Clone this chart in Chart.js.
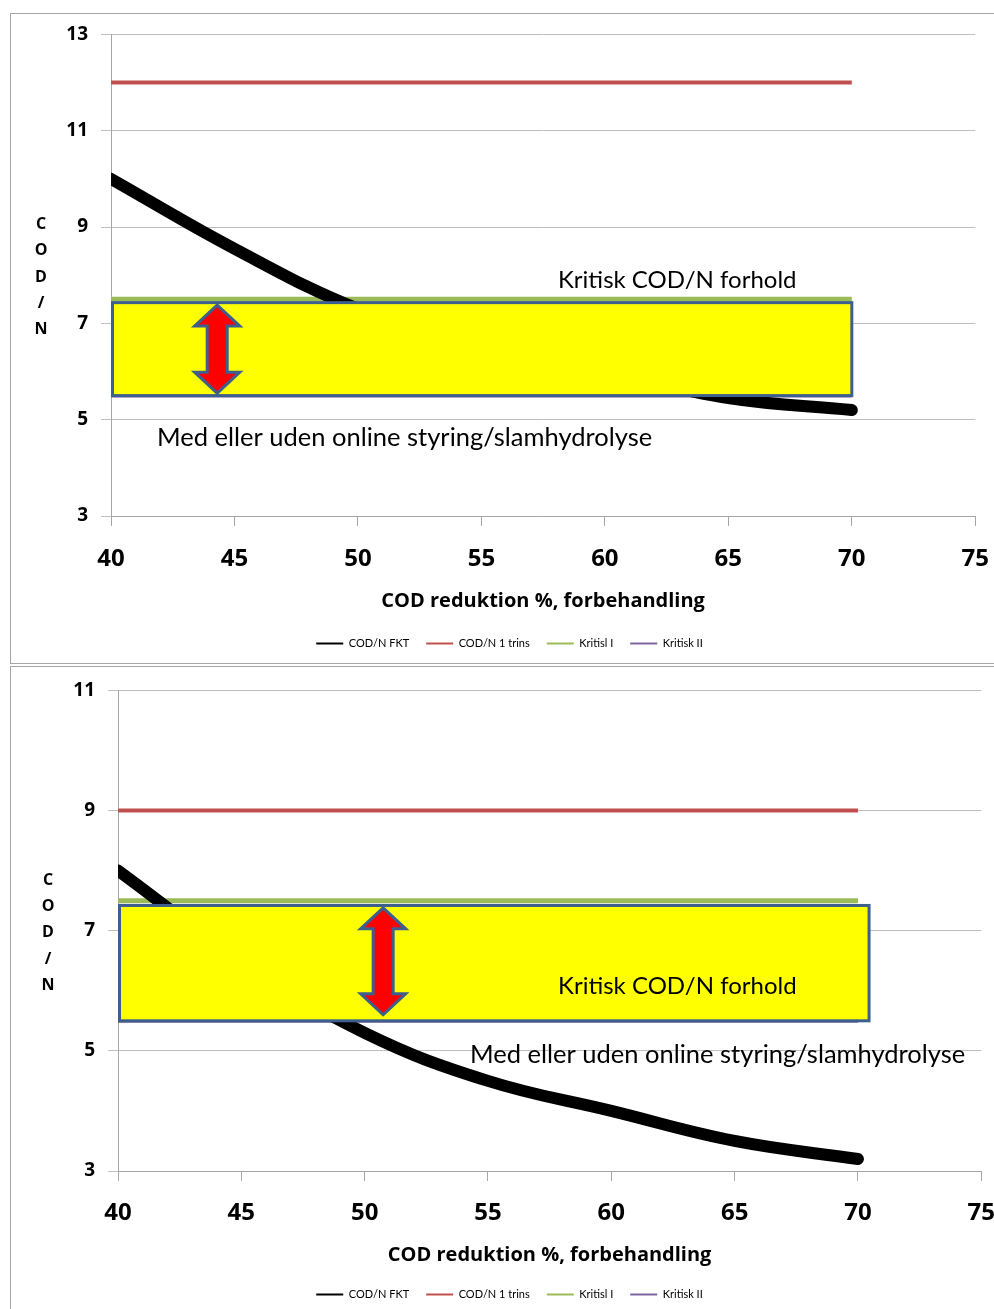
<!DOCTYPE html>
<html><head><meta charset="utf-8">
<script src="https://cdn.jsdelivr.net/npm/chart.js@4.4.1/dist/chart.umd.min.js"></script>
<style>
html,body{margin:0;padding:0;background:#fff}
body{width:994px;height:1309px;overflow:hidden;position:relative;font-family:Lato,sans-serif}
.panel{position:absolute;left:10px;width:1000px;border:1px solid #a6a6a6;background:#fff}
#p1{top:13px;height:649px}
#p2{top:666px;height:700px}
canvas{position:absolute;left:0}
#c1{top:-4px}
#c2{top:-1px}
</style></head><body>
<div class="panel" id="p1"><canvas id="c1" width="997" height="649"></canvas></div>
<div class="panel" id="p2"><canvas id="c2" width="1002" height="644"></canvas></div>
<script>
// ---- data ----
const xValues = [40, 45, 50, 55, 60, 65, 70];
const seriesLabels = ['COD/N FKT', 'COD/N 1 trins', 'Kritisl I', 'Kritisk II'];
const seriesColors = ['#000000', '#c0504d', '#9bbb59', '#8064a2'];

const fktTop = [10.0, 8.55, 7.3, 6.5, 6.0, 5.45, 5.2];
const trinsTop = [12, 12, 12, 12, 12, 12, 12];
const krit1Top = [7.5, 7.5, 7.5, 7.5, 7.5, 7.5, 7.5];
const krit2Top = [5.5, 5.5, 5.5, 5.5, 5.5, 5.5, 5.5];

const fktBottom = [8.0, 6.5, 5.3, 4.5, 4.0, 3.5, 3.2];
const trinsBottom = [9, 9, 9, 9, 9, 9, 9];
const krit1Bottom = [7.5, 7.5, 7.5, 7.5, 7.5, 7.5, 7.5];
const krit2Bottom = [5.5, 5.5, 5.5, 5.5, 5.5, 5.5, 5.5];

const xTicksRange = [40, 75, 5];
const yRangeTop = [3, 13, 2];
const yRangeBottom = [3, 11, 2];

const xTitle = 'COD reduktion %, forbehandling';
const yTitleLetters = ['C', 'O', 'D', '/', 'N'];
const noteCritical = 'Kritisk COD/N forhold';
const noteControl = 'Med eller uden online styring/slamhydrolyse';

// box [x0, x1, y0, y1], arrow [x, y0, y1], note positions [x, y]
const boxTop = [40, 70, 5.5, 7.43];
const arrowTop = [44.3, 5.55, 7.38];
const noteCritTop = [58.1, 7.89];
const noteCtrlTop = [41.86, 4.62];

const boxBottom = [40, 70.45, 5.5, 7.42];
const arrowBottom = [50.75, 5.6, 7.38];
const noteCritBottom = [57.84, 6.08];
const noteCtrlBottom = [54.27, 4.93];

// ---- drawing ----
const BLUE = '#3c5f8e';
const BOLD = "'Open Sans'";
const annotPlugin = {
  id: 'annot',
  afterDatasetsDraw(chart, args, o) {
    const ctx = chart.ctx, xs = chart.scales.x, ys = chart.scales.y;
    ctx.save();
    const bx0 = xs.getPixelForValue(o.box[0]), bx1 = xs.getPixelForValue(o.box[1]);
    const by0 = ys.getPixelForValue(o.box[3]), by1 = ys.getPixelForValue(o.box[2]);
    ctx.fillStyle = '#ffff00';
    ctx.fillRect(bx0, by0, bx1 - bx0, by1 - by0);
    ctx.lineWidth = 3; ctx.strokeStyle = BLUE;
    ctx.strokeRect(bx0 + 1.5, by0, bx1 - bx0 - 1.5, by1 - by0);
    const ax = xs.getPixelForValue(o.arrow[0]);
    const ayB = ys.getPixelForValue(o.arrow[1]), ayT = ys.getPixelForValue(o.arrow[2]);
    const hw = 22.5, sw = 10, hh = 21;
    ctx.beginPath();
    ctx.moveTo(ax, ayT);
    ctx.lineTo(ax + hw, ayT + hh);
    ctx.lineTo(ax + sw, ayT + hh);
    ctx.lineTo(ax + sw, ayB - hh);
    ctx.lineTo(ax + hw, ayB - hh);
    ctx.lineTo(ax, ayB);
    ctx.lineTo(ax - hw, ayB - hh);
    ctx.lineTo(ax - sw, ayB - hh);
    ctx.lineTo(ax - sw, ayT + hh);
    ctx.lineTo(ax - hw, ayT + hh);
    ctx.closePath();
    ctx.fillStyle = '#ff0000'; ctx.fill();
    ctx.lineJoin = 'miter'; ctx.lineWidth = 3; ctx.strokeStyle = BLUE; ctx.stroke();
    ctx.fillStyle = '#000';
    ctx.textAlign = 'left'; ctx.textBaseline = 'middle';
    ctx.font = '24px Lato';
    ctx.fillText(noteCritical, xs.getPixelForValue(o.crit[0]), ys.getPixelForValue(o.crit[1]));
    ctx.font = '25.5px Lato';
    ctx.fillText(noteControl, xs.getPixelForValue(o.ctrl[0]), ys.getPixelForValue(o.ctrl[1]));
    ctx.restore();
  },
  afterDraw(chart) {
    const ctx = chart.ctx, a = chart.chartArea;
    ctx.save();
    ctx.fillStyle = '#000';
    ctx.font = 'bold 16px ' + BOLD;
    ctx.textAlign = 'center'; ctx.textBaseline = 'middle';
    const cx = a.left - 70, cy = (a.top + a.bottom) / 2 + 2, step = 26.3;
    yTitleLetters.forEach((ch, i) => ctx.fillText(ch, cx, cy + (i - 2) * step));
    ctx.restore();
  }
};

function mk(data, i, width) {
  return {
    label: seriesLabels[i],
    data: xValues.map((x, k) => ({ x: x, y: data[k] })),
    borderColor: seriesColors[i],
    backgroundColor: seriesColors[i],
    borderWidth: width,
    pointRadius: 0,
    tension: i === 0 ? 0.4 : 0,
    borderCapStyle: i === 0 ? 'round' : 'butt',
    borderJoinStyle: 'round',
    fill: false
  };
}

function build(id, series, yr, L) {
  return new Chart(document.getElementById(id), {
    type: 'line',
    data: {
      datasets: [
        mk(series[0], 0, 12),
        mk(series[1], 1, 4),
        mk(series[2], 2, 5),
        mk(series[3], 3, 4)
      ]
    },
    options: {
      responsive: false,
      animation: false,
      events: [],
      layout: { padding: { top: 0, right: 13, bottom: 0, left: L.pl } },
      scales: {
        x: {
          type: 'linear', min: xTicksRange[0], max: xTicksRange[1],
          ticks: { stepSize: xTicksRange[2], font: { family: BOLD, size: 24, weight: 'bold' }, color: '#000', padding: L.tp, maxRotation: 0 },
          grid: { drawOnChartArea: false, drawTicks: true, tickLength: 10, color: '#a6a6a6' },
          border: { color: '#a6a6a6', width: 1 },
          title: { display: true, text: xTitle, font: { family: BOLD, size: 20, weight: 'bold' }, color: '#000', padding: L.titp },
          afterFit(s) { s.height = L.xh; }
        },
        y: {
          min: yr[0], max: yr[1],
          ticks: { stepSize: yr[2], font: { family: BOLD, size: 19, weight: 'bold' }, color: '#000', padding: 13 },
          grid: { color: '#bfbfbf', tickLength: 10 },
          border: { color: '#a6a6a6', width: 1 },
          afterFit(s) { s.width = L.yw; }
        }
      },
      plugins: {
        tooltip: { enabled: false },
        legend: {
          position: 'bottom',
          labels: {
            boxWidth: 27, boxHeight: 2, padding: 17, color: '#000',
            font: { family: 'Lato', size: 11 },
            generateLabels(chart) {
              return chart.data.datasets.map((d, i) => ({
                text: d.label, fillStyle: d.borderColor, strokeStyle: d.borderColor,
                lineWidth: 0, hidden: false, datasetIndex: i, fontColor: '#000'
              }));
            }
          }
        },
        annot: L.annot
      }
    },
    plugins: [annotPlugin]
  });
}

build('c1', [fktTop, trinsTop, krit1Top, krit2Top], yRangeTop,
  { pl: 13, yw: 87, xh: 105, tp: 19, titp: 8,
    annot: { box: boxTop, arrow: arrowTop, crit: noteCritTop, ctrl: noteCtrlTop } });
build('c2', [fktBottom, trinsBottom, krit1Bottom, krit2Bottom], yRangeBottom,
  { pl: 8, yw: 99, xh: 101, tp: 18, titp: 5,
    annot: { box: boxBottom, arrow: arrowBottom, crit: noteCritBottom, ctrl: noteCtrlBottom } });
</script>
</body></html>
